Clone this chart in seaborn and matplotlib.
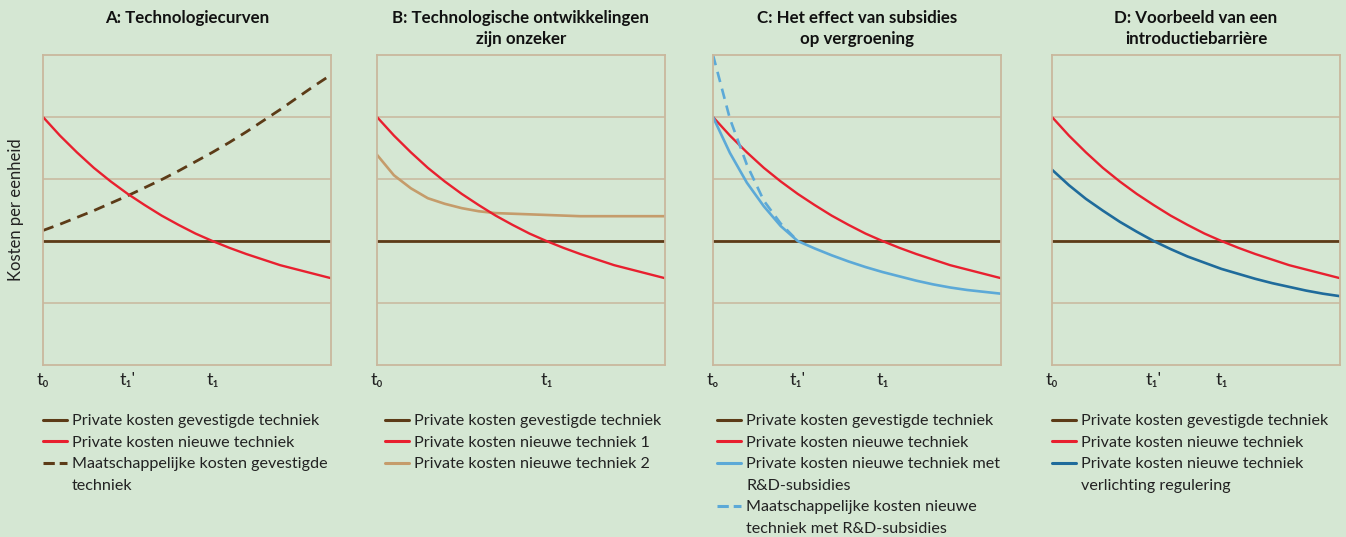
import matplotlib
matplotlib.use('Agg')
import matplotlib.pyplot as plt
import seaborn as sns
from matplotlib.lines import Line2D

# x positions: one step per tick on the time axis
steps = list(range(18))

established = [2.0] * 18
new_tech = [4.00, 3.70, 3.43, 3.18, 2.96, 2.76, 2.58, 2.41, 2.26, 2.12,
            2.00, 1.89, 1.79, 1.70, 1.61, 1.54, 1.47, 1.40]
social_established = [2.17, 2.27, 2.38, 2.49, 2.61, 2.73, 2.86, 2.99, 3.13, 3.28,
                      3.43, 3.59, 3.76, 3.94, 4.12, 4.31, 4.50, 4.68]
new_tech_2 = [3.39, 3.06, 2.85, 2.69, 2.60, 2.53, 2.48, 2.45, 2.44, 2.43,
              2.42, 2.41, 2.40, 2.40, 2.40, 2.40, 2.40, 2.40]
subsidy = [4.00, 3.42, 2.94, 2.56, 2.24, 2.00, 1.88, 1.77, 1.67, 1.58,
           1.50, 1.43, 1.36, 1.30, 1.25, 1.21, 1.18, 1.15]
social_steps = [0, 1, 2, 3, 4, 5]
social_subsidy = [5.00, 3.97, 3.23, 2.65, 2.28, 2.00]
relief = [3.15, 2.90, 2.68, 2.49, 2.31, 2.15, 2.00, 1.87, 1.75, 1.65,
          1.55, 1.47, 1.39, 1.32, 1.26, 1.20, 1.15, 1.11]

titles = ['A: Technologiecurven',
          'B: Technologische ontwikkelingen\nzijn onzeker',
          'C: Het effect van subsidies\nop vergroening',
          'D: Voorbeeld van een\nintroductiebarrière']

tick_labels = [{0: 't₀', 5: "t₁'", 10: 't₁'},
               {0: 't₀', 10: 't₁'},
               {0: 'tₒ', 5: "t₁'", 10: 't₁'},
               {0: 't₀', 6: "t₁'", 10: 't₁'}]

BG = '#d5e7d3'
GRID = '#c9b89d'
BROWN = '#5c3b17'
RED = '#e8202f'
TAN = '#c59c6b'
LIGHT_BLUE = '#5ca9d7'
DARK_BLUE = '#1f6b9b'

sns.set_style('white', {'axes.facecolor': BG, 'figure.facecolor': BG})
plt.rcParams['font.family'] = ['Lato', 'DejaVu Sans']

series = [
    [(steps, established, BROWN, '-', 2.0),
     (steps, social_established, BROWN, (0, (4, 2.6)), 2.0),
     (steps, new_tech, RED, '-', 1.7)],
    [(steps, established, BROWN, '-', 2.0),
     (steps, new_tech_2, TAN, '-', 1.9),
     (steps, new_tech, RED, '-', 1.7)],
    [(steps, established, BROWN, '-', 2.0),
     (steps, new_tech, RED, '-', 1.7),
     (social_steps, social_subsidy, LIGHT_BLUE, (0, (4, 2.6)), 1.9),
     (steps, subsidy, LIGHT_BLUE, '-', 1.9)],
    [(steps, established, BROWN, '-', 2.0),
     (steps, new_tech, RED, '-', 1.7),
     (steps, relief, DARK_BLUE, '-', 1.9)],
]

# legend rows: (text, colour, linestyle); colour None = continuation line
legends = [
    [('Private kosten gevestigde techniek', BROWN, '-'),
     ('Private kosten nieuwe techniek', RED, '-'),
     ('Maatschappelijke kosten gevestigde', BROWN, '--'),
     ('techniek', None, '-')],
    [('Private kosten gevestigde techniek', BROWN, '-'),
     ('Private kosten nieuwe techniek 1', RED, '-'),
     ('Private kosten nieuwe techniek 2', TAN, '-')],
    [('Private kosten gevestigde techniek', BROWN, '-'),
     ('Private kosten nieuwe techniek', RED, '-'),
     ('Private kosten nieuwe techniek met', LIGHT_BLUE, '-'),
     ('R&D-subsidies', None, '-'),
     ('Maatschappelijke kosten nieuwe', LIGHT_BLUE, '--'),
     ('techniek met R&D-subsidies', None, '-')],
    [('Private kosten gevestigde techniek', BROWN, '-'),
     ('Private kosten nieuwe techniek', RED, '-'),
     ('Private kosten nieuwe techniek', DARK_BLUE, '-'),
     ('verlichting regulering', None, '-')],
]

fig = plt.figure(figsize=(13.46, 5.37), dpi=100)
lefts = [43, 377, 713, 1052]
legend_shift = [0.0, 0.028, 0.014, 0.0]

for i in range(4):
    ax = fig.add_axes([lefts[i] / 1346, 1 - 365 / 537, 288 / 1346, 310 / 537])
    for xs, ys, color, ls, lw in series[i]:
        sns.lineplot(x=xs, y=ys, ax=ax, color=color, linestyle=ls, linewidth=lw)

    ax.set_xlim(0, 17)
    ax.set_ylim(0, 5)
    ax.set_yticks(range(6))
    ax.set_yticklabels([])
    for lvl in [1, 2, 3, 4]:
        ax.axhline(lvl, color=GRID, linewidth=1.1, zorder=0)
    labels = tick_labels[i]
    ax.set_xticks(list(labels.keys()))
    ax.set_xticklabels(list(labels.values()), fontsize=13, color='#222222')
    ax.set_xticks(steps, minor=True)
    ax.tick_params(axis='both', which='both', direction='out', length=4,
                   width=1.1, color=GRID)
    ax.tick_params(axis='x', which='major', pad=1)
    for sp in ax.spines.values():
        sp.set_color(GRID)
        sp.set_linewidth(1.3)
        sp.set_visible(True)

    ax.text(0.5, 1.145, titles[i], transform=ax.transAxes, ha='center', va='top',
            fontsize=12.2, fontweight='bold', color='#111111', linespacing=1.4)

    handles, texts = [], []
    for text, color, ls in legends[i]:
        handles.append(Line2D([], [], color=color if color else 'none',
                              linestyle=ls, linewidth=2.2))
        texts.append(text)
    ax.legend(handles, texts, loc='upper left',
              bbox_to_anchor=(legend_shift[i], -0.158), frameon=False,
              fontsize=11.6, handlelength=1.5, handletextpad=0.3,
              labelspacing=0.45, borderpad=0, borderaxespad=0,
              labelcolor='#222222')

    if i == 0:
        ax.set_ylabel('Kosten per eenheid', fontsize=12, color='#222222',
                      labelpad=6)
    else:
        ax.set_ylabel('')

fig.savefig('out.png', dpi=100, facecolor=BG)
